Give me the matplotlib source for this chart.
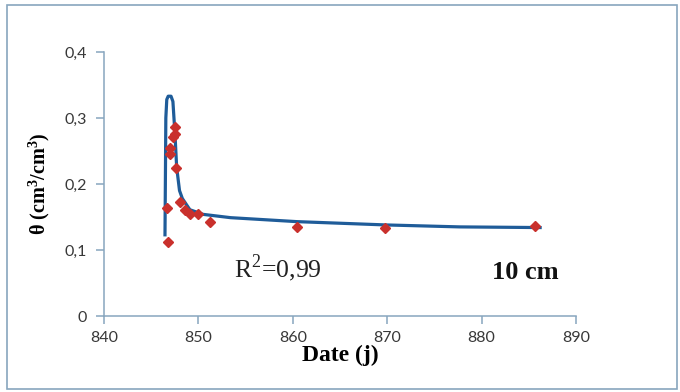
import matplotlib
matplotlib.use("Agg")
import matplotlib.pyplot as plt
from matplotlib.patches import Rectangle

# measured water content (red diamonds)
obs_day = [846.8, 846.7, 847.0, 847.0, 847.3, 847.5, 847.5, 847.6, 848.05,
           848.6, 849.1, 850.0, 851.2, 860.4, 869.8, 885.7]
obs_theta = [0.112, 0.164, 0.245, 0.255, 0.271, 0.287, 0.275, 0.225, 0.172,
             0.161, 0.154, 0.154, 0.143, 0.135, 0.133, 0.137]

# simulated curve (blue line)
sim_day = [846.46, 846.5, 846.55, 846.65, 846.8, 847.1, 847.3, 847.5, 847.7,
           848.0, 848.3, 849.1, 850.5, 853.4, 860.4, 869.8, 877.7, 886.2]
sim_theta = [0.123, 0.20, 0.30, 0.328, 0.333, 0.333, 0.325, 0.28, 0.225,
             0.19, 0.178, 0.161, 0.154, 0.149, 0.143, 0.138, 0.135, 0.134]

x_ticks = [840, 850, 860, 870, 880, 890]
y_ticks = [0, 0.1, 0.2, 0.3, 0.4]
y_ticklabels = ["0", "0,1", "0,2", "0,3", "0,4"]

plt.rcParams["mathtext.fontset"] = "custom"
plt.rcParams["mathtext.rm"] = "Liberation Serif"
plt.rcParams["mathtext.bf"] = "Liberation Serif:bold"

axis_col = "#88a6be"
serif = ["Liberation Serif", "DejaVu Serif"]

fig = plt.figure(figsize=(6.8, 3.92), dpi=100)
fig.patches.append(Rectangle((7 / 680, 3 / 392), 670 / 680, 384 / 392,
                             transform=fig.transFigure, fill=False,
                             edgecolor=axis_col, linewidth=1.2))
ax = fig.add_axes([104 / 680, 1 - 316 / 392, 472 / 680, 264 / 392])

ax.plot(sim_day, sim_theta, color="#1f5c99", linewidth=2.3, zorder=2,
        solid_joinstyle="round")
ax.plot(obs_day, obs_theta, linestyle="none", marker="D", markersize=5.5,
        color="#c9302c", zorder=3)

ax.set_xlim(840, 890)
ax.set_ylim(0, 0.4)
ax.set_xticks(x_ticks)
ax.set_yticks(y_ticks)
ax.set_yticklabels(y_ticklabels)
for s in ["top", "right"]:
    ax.spines[s].set_visible(False)
for s in ["left", "bottom"]:
    ax.spines[s].set_color(axis_col)
    ax.spines[s].set_linewidth(1.1)
ax.tick_params(colors=axis_col, length=6, width=1.1, labelcolor="#383838",
               labelsize=11.5)
ax.tick_params(axis="x", pad=5)
ax.tick_params(axis="y", pad=6)
for lab in ax.get_xticklabels() + ax.get_yticklabels():
    lab.set_family("Lato")

ax.set_xlabel("Date (j)", family=serif, fontweight="bold", fontsize=17,
              labelpad=0)
ax.set_ylabel(r"θ (cm$^\mathbf{3}$/cm$^\mathbf{3}$)", family=serif,
              fontweight="bold", fontsize=14.5, labelpad=9)

ax.text(0.275, 0.148, r"R$^2$=0,99", transform=ax.transAxes, family=serif,
        fontsize=18.5, color="#222222")
ax.text(0.822, 0.14, "10 cm", transform=ax.transAxes, family=serif,
        fontsize=19, fontweight="bold", color="#111111")

fig.savefig("out.png", dpi=100)
